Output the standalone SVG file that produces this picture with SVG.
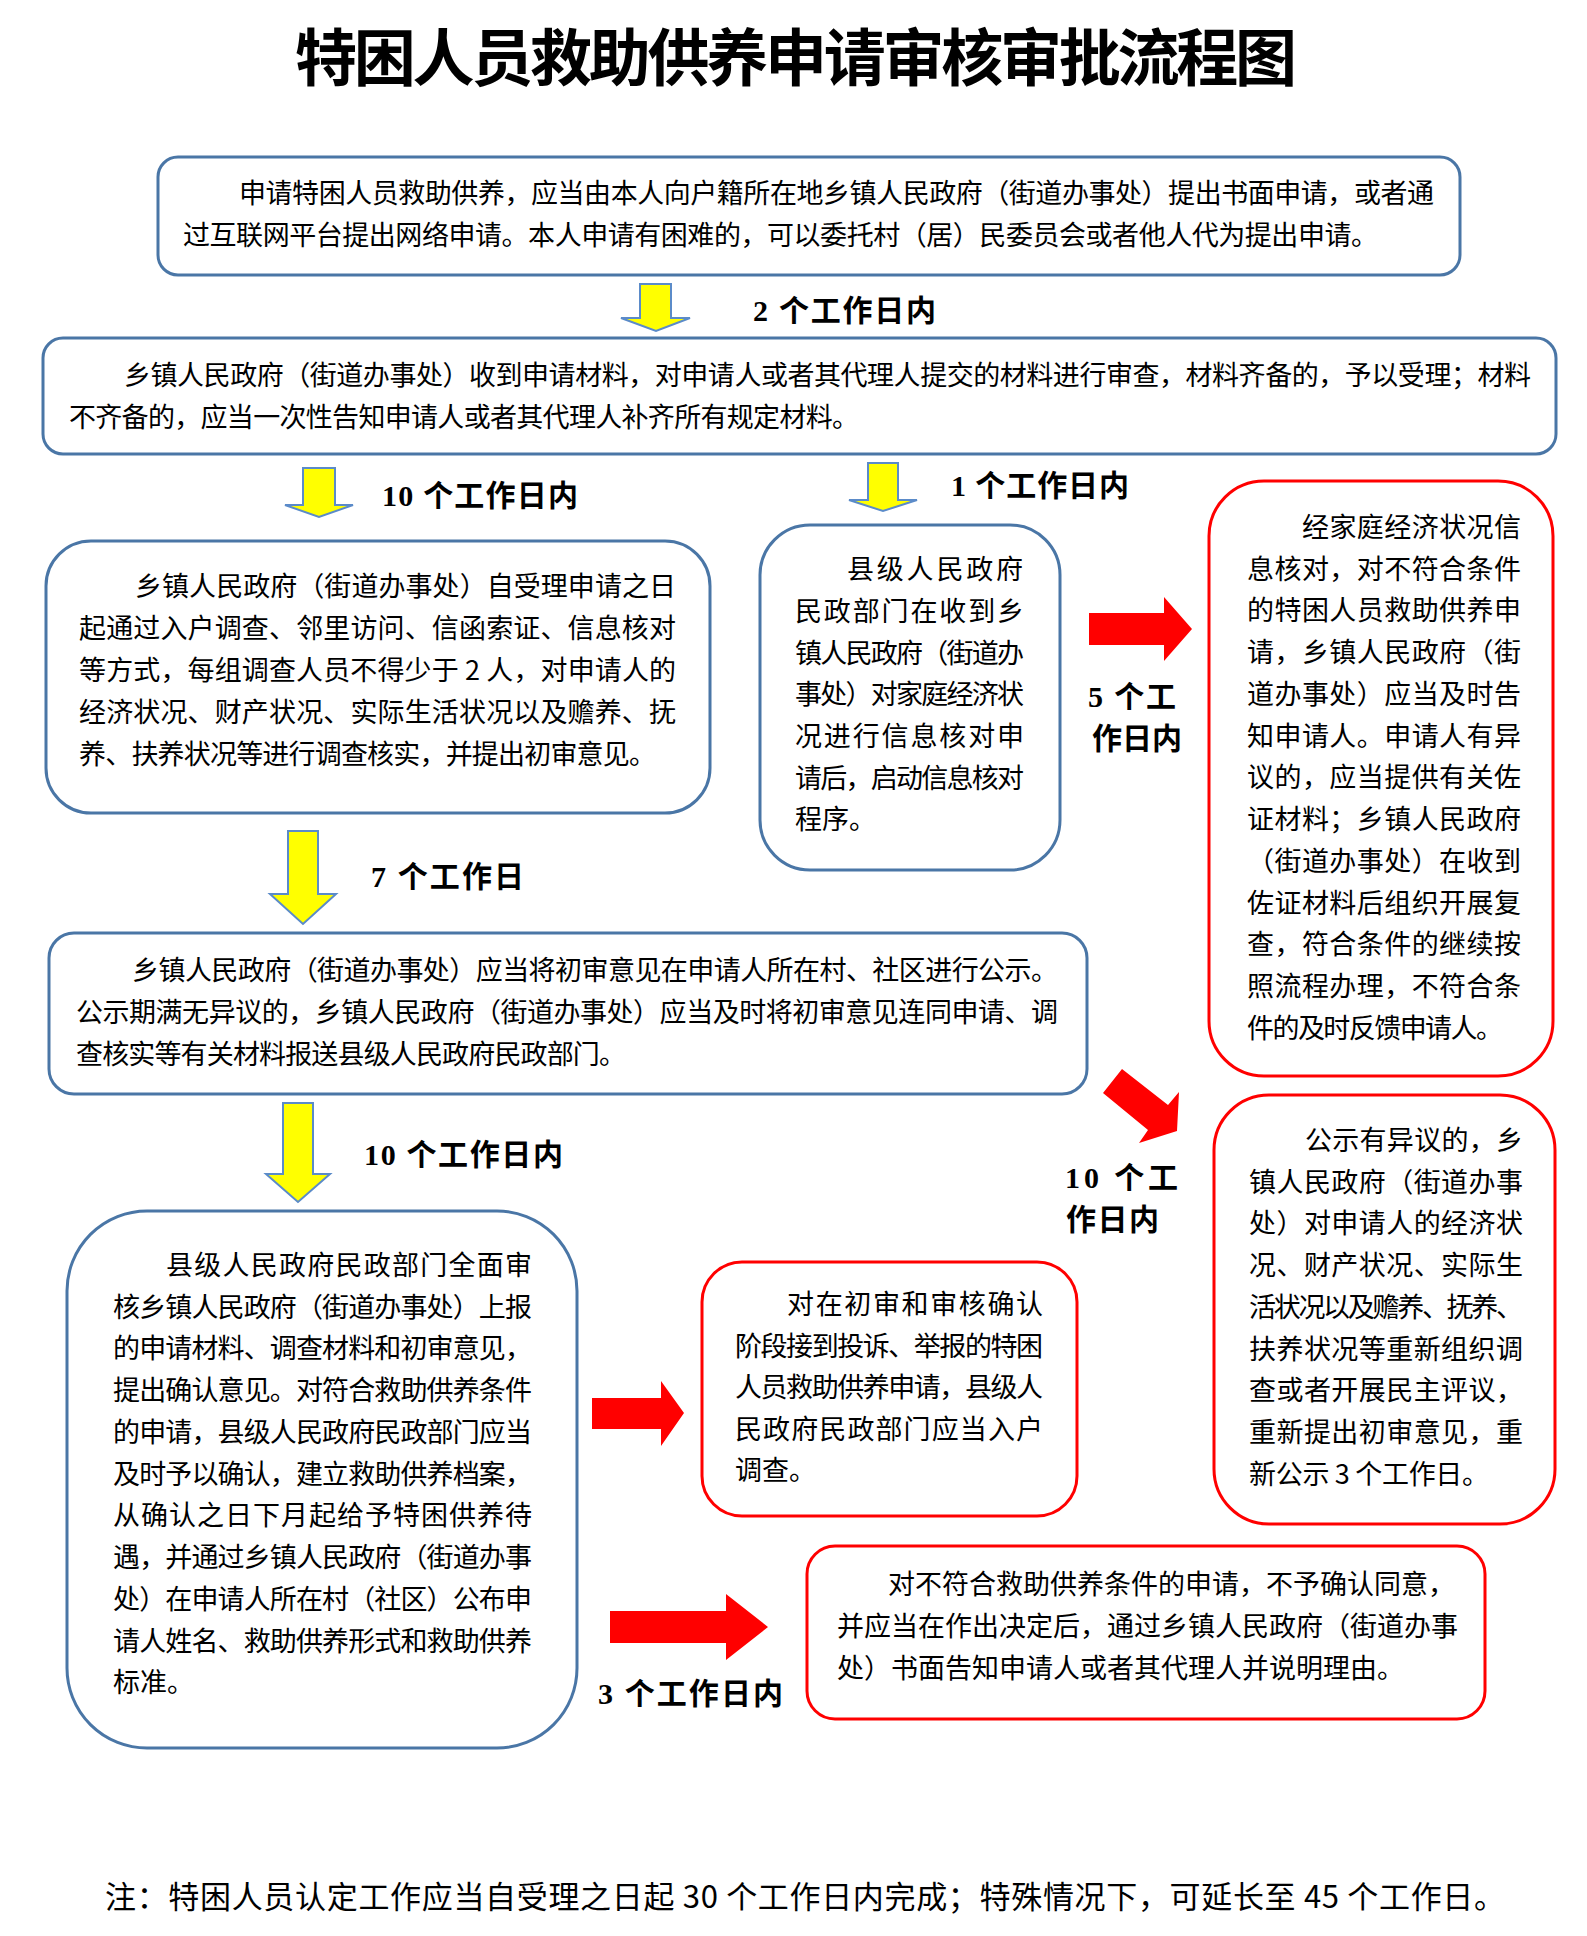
<svg xmlns="http://www.w3.org/2000/svg" width="1587" height="1936" viewBox="0 0 1587 1936">
<style>
.bb{fill:#fff;stroke:#4A76A6;stroke-width:3}
.br{fill:#fff;stroke:#FF0000;stroke-width:3}
.t{font-family:"Noto Sans CJK SC",sans-serif;font-size:27px;fill:#000}
.lbl{font-family:"Liberation Serif","Noto Sans CJK SC",serif;font-size:30px;font-weight:bold;fill:#000}
.ya{fill:#FFFF00;stroke:#5B8BC9;stroke-width:2}
.ra{fill:#FF0000}
.title{font-family:"Noto Sans CJK SC",sans-serif;font-size:62px;font-weight:bold;fill:#000}
.note{font-family:"Noto Sans CJK SC",sans-serif;font-size:31px;fill:#000}
</style>
<rect width="1587" height="1936" fill="#fff"/>
<text class="title" x="295" y="81" textLength="1002">特困人员救助供养申请审核审批流程图</text>

<g id="n1">
<rect class="bb" x="158" y="157" width="1302" height="118" rx="20"/>
<text class="t" x="239" y="203" textLength="1195">申请特困人员救助供养，应当由本人向户籍所在地乡镇人民政府（街道办事处）提出书面申请，或者通</text>
<text class="t" x="183" y="245" textLength="1195">过互联网平台提出网络申请。本人申请有困难的，可以委托村（居）民委员会或者他人代为提出申请。</text>
</g>

<g id="n2">
<rect class="bb" x="43" y="338" width="1513" height="116" rx="20"/>
<text class="t" x="124" y="385" textLength="1407">乡镇人民政府（街道办事处）收到申请材料，对申请人或者其代理人提交的材料进行审查，材料齐备的，予以受理；材料</text>
<text class="t" x="69" y="427" textLength="790">不齐备的，应当一次性告知申请人或者其代理人补齐所有规定材料。</text>
</g>

<g id="n3">
<rect class="bb" x="46" y="541" width="664" height="272" rx="45"/>
<text class="t" x="135" y="596" textLength="541">乡镇人民政府（街道办事处）自受理申请之日</text>
<text class="t" x="79" y="638" textLength="597">起通过入户调查、邻里访问、信函索证、信息核对</text>
<text class="t" x="79" y="680" textLength="597">等方式，每组调查人员不得少于 2 人，对申请人的</text>
<text class="t" x="79" y="722" textLength="597">经济状况、财产状况、实际生活状况以及赡养、抚</text>
<text class="t" x="79" y="764" textLength="577">养、扶养状况等进行调查核实，并提出初审意见。</text>
</g>

<g id="n4">
<rect class="bb" x="760" y="525" width="300" height="345" rx="50"/>
<text class="t" x="847" y="579" textLength="176">县级人民政府</text>
<text class="t" x="795" y="621" textLength="229">民政部门在收到乡</text>
<text class="t" x="795" y="663" textLength="229">镇人民政府（街道办</text>
<text class="t" x="795" y="704" textLength="229">事处）对家庭经济状</text>
<text class="t" x="795" y="746" textLength="229">况进行信息核对申</text>
<text class="t" x="795" y="788" textLength="229">请后，启动信息核对</text>
<text class="t" x="795" y="829">程序。</text>
</g>

<g id="n5">
<rect class="br" x="1209" y="481" width="344" height="595" rx="55"/>
<text class="t" x="1302" y="537" textLength="219">经家庭经济状况信</text>
<text class="t" x="1247" y="579" textLength="274">息核对，对不符合条件</text>
<text class="t" x="1247" y="620" textLength="274">的特困人员救助供养申</text>
<text class="t" x="1247" y="662" textLength="274">请，乡镇人民政府（街</text>
<text class="t" x="1247" y="704" textLength="274">道办事处）应当及时告</text>
<text class="t" x="1247" y="746" textLength="274">知申请人。申请人有异</text>
<text class="t" x="1247" y="787" textLength="274">议的，应当提供有关佐</text>
<text class="t" x="1247" y="829" textLength="274">证材料；乡镇人民政府</text>
<text class="t" x="1247" y="871" textLength="274">（街道办事处）在收到</text>
<text class="t" x="1247" y="913" textLength="274">佐证材料后组织开展复</text>
<text class="t" x="1247" y="954" textLength="274">查，符合条件的继续按</text>
<text class="t" x="1247" y="996" textLength="274">照流程办理，不符合条</text>
<text class="t" x="1247" y="1038" textLength="256">件的及时反馈申请人。</text>
</g>

<g id="n6">
<rect class="bb" x="49" y="933" width="1038" height="161" rx="25"/>
<text class="t" x="132" y="980" textLength="926">乡镇人民政府（街道办事处）应当将初审意见在申请人所在村、社区进行公示。</text>
<text class="t" x="76" y="1022" textLength="982">公示期满无异议的，乡镇人民政府（街道办事处）应当及时将初审意见连同申请、调</text>
<text class="t" x="76" y="1064" textLength="550">查核实等有关材料报送县级人民政府民政部门。</text>
</g>

<g id="n7">
<rect class="br" x="1214" y="1095" width="341" height="429" rx="55"/>
<text class="t" x="1305" y="1150" textLength="218">公示有异议的，乡</text>
<text class="t" x="1249" y="1192" textLength="274">镇人民政府（街道办事</text>
<text class="t" x="1249" y="1233" textLength="274">处）对申请人的经济状</text>
<text class="t" x="1249" y="1275" textLength="274">况、财产状况、实际生</text>
<text class="t" x="1249" y="1317" textLength="274">活状况以及赡养、抚养、</text>
<text class="t" x="1249" y="1359" textLength="274">扶养状况等重新组织调</text>
<text class="t" x="1249" y="1400" textLength="274">查或者开展民主评议，</text>
<text class="t" x="1249" y="1442" textLength="274">重新提出初审意见，重</text>
<text class="t" x="1249" y="1484" textLength="240">新公示 3 个工作日。</text>
</g>

<g id="n8">
<rect class="bb" x="67" y="1211" width="510" height="537" rx="80"/>
<text class="t" x="166" y="1275" textLength="366">县级人民政府民政部门全面审</text>
<text class="t" x="113" y="1317" textLength="419">核乡镇人民政府（街道办事处）上报</text>
<text class="t" x="113" y="1358" textLength="419">的申请材料、调查材料和初审意见，</text>
<text class="t" x="113" y="1400" textLength="419">提出确认意见。对符合救助供养条件</text>
<text class="t" x="113" y="1442" textLength="419">的申请，县级人民政府民政部门应当</text>
<text class="t" x="113" y="1484" textLength="419">及时予以确认，建立救助供养档案，</text>
<text class="t" x="113" y="1525" textLength="419">从确认之日下月起给予特困供养待</text>
<text class="t" x="113" y="1567" textLength="419">遇，并通过乡镇人民政府（街道办事</text>
<text class="t" x="113" y="1609" textLength="419">处）在申请人所在村（社区）公布申</text>
<text class="t" x="113" y="1651" textLength="419">请人姓名、救助供养形式和救助供养</text>
<text class="t" x="113" y="1692">标准。</text>
</g>

<g id="n9">
<rect class="br" x="702" y="1262" width="375" height="254" rx="40"/>
<text class="t" x="787" y="1314" textLength="256">对在初审和审核确认</text>
<text class="t" x="735" y="1356" textLength="308">阶段接到投诉、举报的特困</text>
<text class="t" x="735" y="1397" textLength="308">人员救助供养申请，县级人</text>
<text class="t" x="735" y="1439" textLength="308">民政府民政部门应当入户</text>
<text class="t" x="735" y="1480">调查。</text>
</g>

<g id="n10">
<rect class="br" x="807" y="1546" width="678" height="173" rx="28"/>
<text class="t" x="888" y="1594">对不符合救助供养条件的申请，不予确认同意，</text>
<text class="t" x="837" y="1636" textLength="621">并应当在作出决定后，通过乡镇人民政府（街道办事</text>
<text class="t" x="837" y="1678">处）书面告知申请人或者其代理人并说明理由。</text>
</g>

<g id="connectors">
<polygon class="ya" points="640,284 671,284 671,318 690,318 656,331 621,318 640,318"/>
<text class="lbl" x="753" y="321" textLength="183">2 个工作日内</text>

<polygon class="ya" points="303,468 335,468 335,505 353,505 319,517 285,505 303,505"/>
<text class="lbl" x="382" y="506" textLength="196">10 个工作日内</text>

<polygon class="ya" points="868,463 898,463 898,500 917,500 883,511 849,500 868,500"/>
<text class="lbl" x="951" y="496" textLength="178">1 个工作日内</text>

<polygon class="ra" points="1089,613 1164,613 1164,597 1192,629 1164,661 1164,645 1089,645"/>
<text class="lbl" x="1088" y="707" textLength="88">5 个工</text>
<text class="lbl" x="1092" y="749" textLength="90">作日内</text>

<polygon class="ya" points="288,831 318,831 318,894 336,894 303,924 270,894 288,894"/>
<text class="lbl" x="371" y="887" textLength="153">7 个工作日</text>

<polygon class="ra" points="1103,1093 1122,1069 1168,1105 1179,1092 1177,1131 1139,1143 1148,1130"/>
<text class="lbl" x="1065" y="1188" textLength="113">10 个工</text>
<text class="lbl" x="1066" y="1230" textLength="93">作日内</text>

<polygon class="ya" points="283,1103 313,1103 313,1174 330,1174 298,1202 266,1174 283,1174"/>
<text class="lbl" x="364" y="1165" textLength="199">10 个工作日内</text>

<polygon class="ra" points="592,1398 661,1398 661,1381 684,1413 661,1446 661,1429 592,1429"/>

<polygon class="ra" points="610,1611 726,1611 726,1594 768,1627 726,1660 726,1643 610,1643"/>
<text class="lbl" x="598" y="1704" textLength="185">3 个工作日内</text>
</g>

<text class="note" x="105" y="1908" textLength="1400">注：特困人员认定工作应当自受理之日起 30 个工作日内完成；特殊情况下，可延长至 45 个工作日。</text>
</svg>
